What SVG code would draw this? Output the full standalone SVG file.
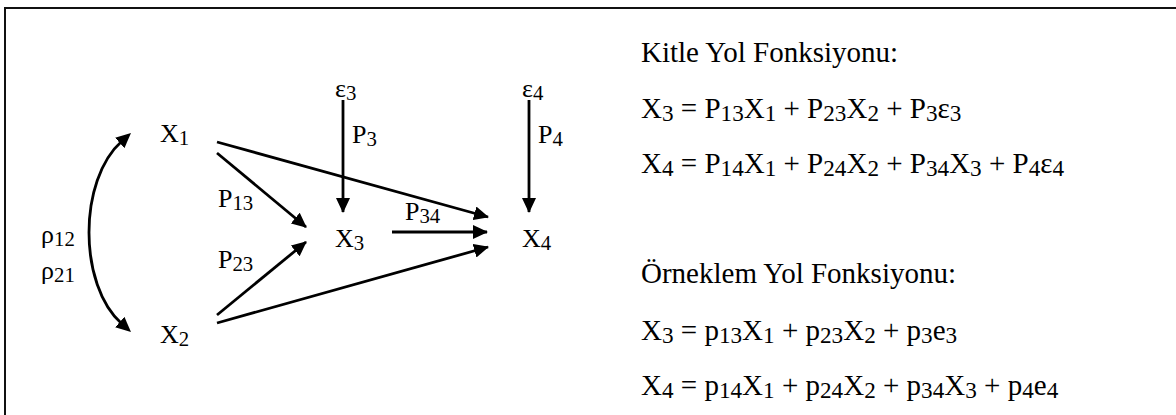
<svg xmlns="http://www.w3.org/2000/svg" width="1176" height="415" viewBox="0 0 1176 415">
  <style>
    text { font-family: "Liberation Serif", "DejaVu Serif", serif; fill: #000; }
    .lbl { font-size: 26px; }
    .eq { font-size: 29px; }
    .s { font-size: 0.8em; }
    .conn { stroke: #000; stroke-width: 2.8; fill: none; }
  </style>
  <defs>
    <marker id="ah" markerUnits="userSpaceOnUse" markerWidth="15" markerHeight="14" refX="14" refY="7" orient="auto-start-reverse">
      <path d="M0,0 L15,7 L0,14 z" fill="#000"/>
    </marker>
    <marker id="ahc" markerUnits="userSpaceOnUse" markerWidth="15" markerHeight="14" refX="3" refY="7" orient="auto-start-reverse">
      <path d="M0,0 L15,7 L0,14 z" fill="#000"/>
    </marker>
  </defs>

  <g id="frame">
    <line x1="5" y1="8" x2="1176" y2="8" stroke="#111" stroke-width="2"/>
    <line x1="5" y1="7" x2="5" y2="415" stroke="#111" stroke-width="2"/>
  </g>

  <g id="connectors">
    <path class="conn" d="M122,141 C78,180 78,285 122,324" marker-start="url(#ahc)" marker-end="url(#ahc)"/>
    <line class="conn" x1="217" y1="142" x2="488" y2="217" marker-end="url(#ah)"/>
    <line class="conn" x1="217" y1="153" x2="306" y2="227" marker-end="url(#ah)"/>
    <line class="conn" x1="217" y1="315" x2="306" y2="242" marker-end="url(#ah)"/>
    <line class="conn" x1="217" y1="323" x2="488" y2="247" marker-end="url(#ah)"/>
    <line class="conn" x1="392" y1="232" x2="487" y2="232" marker-end="url(#ah)"/>
    <line class="conn" x1="343" y1="100" x2="343" y2="212" marker-end="url(#ah)"/>
    <line class="conn" x1="529" y1="100" x2="529" y2="212" marker-end="url(#ah)"/>
  </g>

  <g id="node-x1"><text class="lbl" x="160" y="142">X<tspan class="s" dy="3">1</tspan></text></g>
  <g id="node-x2"><text class="lbl" x="160" y="343">X<tspan class="s" dy="3">2</tspan></text></g>
  <g id="node-x3"><text class="lbl" x="335" y="247">X<tspan class="s" dy="3">3</tspan></text></g>
  <g id="node-x4"><text class="lbl" x="522" y="247">X<tspan class="s" dy="3">4</tspan></text></g>
  <g id="node-e3"><text class="lbl" x="335" y="97">ε<tspan class="s" dy="3">3</tspan></text></g>
  <g id="node-e4"><text class="lbl" x="522" y="97">ε<tspan class="s" dy="3">4</tspan></text></g>

  <g id="edge-labels">
    <text class="lbl" x="352" y="143">P<tspan class="s" dy="3">3</tspan></text>
    <text class="lbl" x="538" y="143">P<tspan class="s" dy="3">4</tspan></text>
    <text class="lbl" x="218" y="207">P<tspan class="s" dy="3">13</tspan></text>
    <text class="lbl" x="218" y="268">P<tspan class="s" dy="3">23</tspan></text>
    <text class="lbl" x="405" y="220">P<tspan class="s" dy="3">34</tspan></text>
    <text class="lbl" x="41" y="243">ρ<tspan class="s" dy="3">12</tspan></text>
    <text class="lbl" x="41" y="279">ρ<tspan class="s" dy="3">21</tspan></text>
  </g>

  <g id="equations">
    <text class="eq" x="641" y="62">Kitle Yol Fonksiyonu:</text>
    <text class="eq" x="641" y="118">X<tspan class="s" dy="3">3</tspan><tspan dy="-3"> = P</tspan><tspan class="s" dy="3">13</tspan><tspan dy="-3">X</tspan><tspan class="s" dy="3">1</tspan><tspan dy="-3"> + P</tspan><tspan class="s" dy="3">23</tspan><tspan dy="-3">X</tspan><tspan class="s" dy="3">2</tspan><tspan dy="-3"> + P</tspan><tspan class="s" dy="3">3</tspan><tspan dy="-3">ε</tspan><tspan class="s" dy="3">3</tspan></text>
    <text class="eq" x="641" y="173">X<tspan class="s" dy="3">4</tspan><tspan dy="-3"> = P</tspan><tspan class="s" dy="3">14</tspan><tspan dy="-3">X</tspan><tspan class="s" dy="3">1</tspan><tspan dy="-3"> + P</tspan><tspan class="s" dy="3">24</tspan><tspan dy="-3">X</tspan><tspan class="s" dy="3">2</tspan><tspan dy="-3"> + P</tspan><tspan class="s" dy="3">34</tspan><tspan dy="-3">X</tspan><tspan class="s" dy="3">3</tspan><tspan dy="-3"> + P</tspan><tspan class="s" dy="3">4</tspan><tspan dy="-3">ε</tspan><tspan class="s" dy="3">4</tspan></text>
    <text class="eq" x="641" y="283">Örneklem Yol Fonksiyonu:</text>
    <text class="eq" x="641" y="340">X<tspan class="s" dy="3">3</tspan><tspan dy="-3"> = p</tspan><tspan class="s" dy="3">13</tspan><tspan dy="-3">X</tspan><tspan class="s" dy="3">1</tspan><tspan dy="-3"> + p</tspan><tspan class="s" dy="3">23</tspan><tspan dy="-3">X</tspan><tspan class="s" dy="3">2</tspan><tspan dy="-3"> + p</tspan><tspan class="s" dy="3">3</tspan><tspan dy="-3">e</tspan><tspan class="s" dy="3">3</tspan></text>
    <text class="eq" x="641" y="395">X<tspan class="s" dy="3">4</tspan><tspan dy="-3"> = p</tspan><tspan class="s" dy="3">14</tspan><tspan dy="-3">X</tspan><tspan class="s" dy="3">1</tspan><tspan dy="-3"> + p</tspan><tspan class="s" dy="3">24</tspan><tspan dy="-3">X</tspan><tspan class="s" dy="3">2</tspan><tspan dy="-3"> + p</tspan><tspan class="s" dy="3">34</tspan><tspan dy="-3">X</tspan><tspan class="s" dy="3">3</tspan><tspan dy="-3"> + p</tspan><tspan class="s" dy="3">4</tspan><tspan dy="-3">e</tspan><tspan class="s" dy="3">4</tspan></text>
  </g>
</svg>
